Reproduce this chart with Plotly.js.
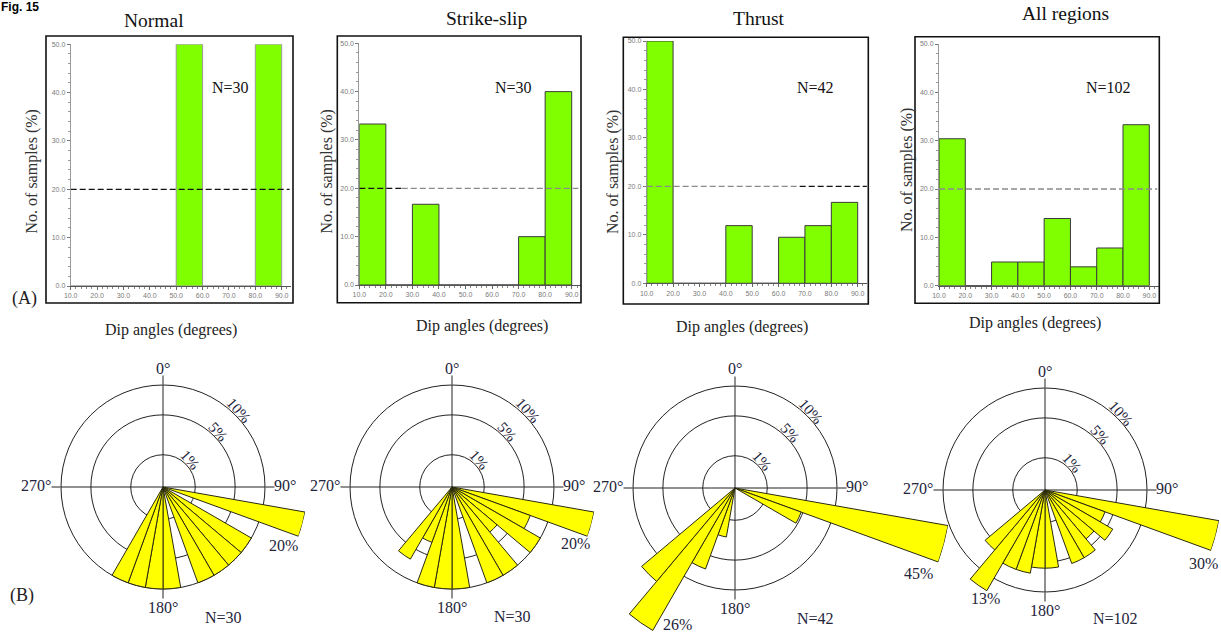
<!DOCTYPE html>
<html>
<head>
<meta charset="utf-8">
<script src="https://cdn.plot.ly/plotly-3.0.1.min.js"></script>
<style>
  html, body { margin: 0; padding: 0; background: #ffffff; overflow: hidden; }
  #frame { width: 1221px; height: 634px; overflow: hidden; position: relative; }
</style>
</head>
<body>
<div id="frame"><div id="chart"></div></div>
<script>
// ---- Dip-angle histograms: share of samples (%) per 10-degree dip bin ----
const dipBinCentres = [15, 25, 35, 45, 55, 65, 75, 85];
const dipTickValues = [10, 20, 30, 40, 50, 60, 70, 80, 90];
const dipNormal     = [0, 0, 0, 0, 50, 0, 0, 50];
const dipStrikeSlip = [33.3, 0, 16.7, 0, 0, 0, 10, 40];
const dipThrust     = [50, 0, 0, 11.9, 0, 9.5, 11.9, 16.7];
const dipAll        = [30.4, 0, 4.9, 4.9, 13.9, 3.9, 7.8, 33.3];
const referenceLevel = 20;

// ---- Rose diagrams: share of samples (%) per 10-degree azimuth bin ----
const roseBinCentres = [105, 115, 125, 135, 145, 155, 165, 175, 185, 195, 205, 215, 225];
const roseBinWidth   = 10;
const roseNormal     = [20, 0, 10, 10, 10, 10, 0, 10, 10, 10, 10, 0, 0];
const roseStrikeSlip = [20, 6.67, 10, 3.33, 10, 10, 0, 10, 10, 10, 3.33, 6.67, 0];
const roseThrust     = [45, 4.76, 0, 0, 0, 0, 0, 0, 0, 2.38, 7.14, 26, 14.29];
const roseAll        = [30, 3.92, 5.88, 3.92, 5.88, 5.88, 0, 5.88, 5.88, 6.86, 6.86, 13, 5.88];
const roseRings      = [1, 5, 10];
const roseCompass    = [0, 90, 180, 270];

const panelTitles  = ['Normal', 'Strike-slip', 'Thrust', 'All regions'];
const sampleCounts = [30, 30, 42, 102];

// ---- page geometry ----
// The figure canvas is larger than the visible frame so that the long petals,
// which run past the outer ring, have room inside their own polar subplot.
const W = 1300, H = 900;
const R_OUTER = 102;                 // pixel radius of the outermost ring
const X_MAX = 93.5;
const serif = '"Liberation Serif", "Times New Roman", serif';
const ink = '#24243a';
const px = x => x / W;
const py = y => 1 - y / H;

const panels = [
  { dip: dipNormal, rose: roseNormal, barLine: '#9a9a9a',
    x10: 70.7, x90: 281.7, y0: 286, y50: 44.3, frame: [46, 36, 293, 303],
    title: [154, 21], nHist: [230, 87], yTitle: [31.5, 172], xTitle: [170.5, 330],
    refSegments: [[10, 93, '#111111']],
    centre: [163, 487], nRose: [60, 130],
    petalLabels: [[0, 120, 58]] },
  { dip: dipStrikeSlip, rose: roseStrikeSlip, barLine: '#3a3a3a',
    x10: 359.3, x90: 571.7, y0: 285, y50: 43.3, frame: [337.3, 36, 581, 302.7],
    title: [486, 19], nHist: [513, 87], yTitle: [326.5, 172], xTitle: [482, 326],
    refSegments: [[10, 26, '#111111'], [26, 92.5, '#8a8a8a']],
    centre: [452, 487], nRose: [60, 129],
    petalLabels: [[0, 123, 56]] },
  { dip: dipThrust, rose: roseThrust, barLine: '#3a3a3a',
    x10: 646.7, x90: 857.7, y0: 283.3, y50: 41, frame: [623.3, 37.3, 868.3, 304],
    title: [759, 18], nHist: [815, 87], yTitle: [613, 172], xTitle: [741.5, 327],
    refSegments: [[10, 68, '#8a8a8a'], [68, 93.5, '#111111']],
    centre: [735, 488], nRose: [80, 130],
    petalLabels: [[0, 183, 85], [11, -58, 136]] },
  { dip: dipAll, rose: roseAll, barLine: '#3a3a3a',
    x10: 939, x90: 1149.3, y0: 285.7, y50: 44, frame: [915, 36.7, 1159.3, 303.3],
    title: [1065, 14], nHist: [1108, 87], yTitle: [907, 170], xTitle: [1035, 323],
    refSegments: [[10, 93, '#8a8a8a']],
    centre: [1045, 490], nRose: [70, 128],
    petalLabels: [[0, 158, 73], [11, -60, 108]] }
];

function note(text, x, y, extra) {
  const base = {
    text: text, x: px(x), y: py(y), xref: 'paper', yref: 'paper',
    showarrow: false, xanchor: 'center', yanchor: 'middle',
    font: { family: serif, size: 16, color: ink }
  };
  return Object.assign(base, extra || {});
}

const layout = {
  width: W, height: H,
  margin: { l: 0, r: 0, t: 0, b: 0, pad: 0 },
  paper_bgcolor: '#ffffff', plot_bgcolor: 'rgba(0,0,0,0)',
  showlegend: false,
  annotations: [], shapes: []
};
const histTraces = [], ringTraces = [], petalTraces = [];

const ringMaxPct = roseRings[roseRings.length - 1];
const ringTicks = roseRings.slice(0, -1).map(Math.sqrt);

panels.forEach((p, i) => {
  const k = i === 0 ? '' : String(i + 1);
  const xa = 'x' + k, ya = 'y' + k;

  // ---- histogram ----
  histTraces.push({
    type: 'bar', x: dipBinCentres, y: p.dip, width: 10,
    xaxis: xa, yaxis: ya,
    marker: { color: '#80ff00', line: { color: p.barLine, width: 1 } },
    hoverinfo: 'skip'
  });

  const unit = (p.x90 - p.x10) / 80;
  const axisFont = { family: 'Arial, "Liberation Sans", sans-serif', size: 7, color: '#7a7a7a' };
  layout['xaxis' + k] = {
    domain: [px(p.x10), px(p.x10 + (X_MAX - 10) * unit)],
    anchor: ya, range: [10, X_MAX], tickvals: dipTickValues, tickformat: '.1f',
    ticks: 'outside', ticklen: 3, tickcolor: '#666', tickwidth: 1,
    minor: { dtick: 2, ticks: 'outside', ticklen: 2, tickcolor: '#888' },
    showline: true, linecolor: '#555', linewidth: 1,
    showgrid: false, zeroline: false, tickfont: axisFont, fixedrange: true
  };
  layout['yaxis' + k] = {
    domain: [py(p.y0), py(p.y50)],
    anchor: xa, range: [0, 50], dtick: 10, tickformat: '.1f',
    ticks: 'outside', ticklen: 3, tickcolor: '#777', tickwidth: 1,
    minor: { dtick: 2, ticks: 'outside', ticklen: 2, tickcolor: '#999' },
    showline: true, linecolor: '#999', linewidth: 1,
    showgrid: false, zeroline: false, tickfont: axisFont, fixedrange: true
  };

  p.refSegments.forEach(seg => {
    layout.shapes.push({
      type: 'line', xref: xa, yref: ya, x0: seg[0], x1: seg[1],
      y0: referenceLevel, y1: referenceLevel,
      line: { color: seg[2], width: 1.3, dash: '6px,3px' }
    });
  });

  layout.shapes.push({
    type: 'rect', xref: 'paper', yref: 'paper',
    x0: px(p.frame[0]), x1: px(p.frame[2]), y0: py(p.frame[3]), y1: py(p.frame[1]),
    line: { color: '#111', width: 1.6 }, fillcolor: 'rgba(0,0,0,0)'
  });

  layout.annotations.push(
    note(panelTitles[i], p.title[0], p.title[1], { font: { family: serif, size: 19.5, color: '#111' } }),
    note('N=' + sampleCounts[i], p.nHist[0], p.nHist[1], { font: { family: serif, size: 16, color: '#111' } }),
    note('No. of samples (%)', p.yTitle[0], p.yTitle[1], { textangle: -90, font: { family: serif, size: 16, color: '#333' } }),
    note('Dip angles (degrees)', p.xTitle[0], p.xTitle[1], { font: { family: serif, size: 16, color: '#222' } })
  );

  // ---- rose diagram ----
  // ring subplot: 1 %, 5 %, 10 % circles and the compass cross (equal-area: radius ~ sqrt(%))
  const cx = p.centre[0], cy = p.centre[1];
  const ringId = i === 0 ? 'polar' : 'polar' + (i + 1);
  const petalId = 'polar' + (i + 5);

  ringTraces.push({
    type: 'scatterpolar', subplot: ringId, r: [], theta: [], mode: 'markers', hoverinfo: 'skip'
  });
  layout[ringId] = {
    domain: { x: [px(cx - R_OUTER), px(cx + R_OUTER)], y: [py(cy + R_OUTER), py(cy - R_OUTER)] },
    bgcolor: 'rgba(0,0,0,0)',
    radialaxis: {
      range: [0, Math.sqrt(ringMaxPct)], tickvals: ringTicks, showticklabels: false, ticks: '',
      showline: false, showgrid: true, gridcolor: '#222', gridwidth: 1
    },
    angularaxis: {
      rotation: 90, direction: 'clockwise', tickvals: roseCompass, showticklabels: false,
      ticks: 'outside', ticklen: 9, tickcolor: '#222', tickwidth: 1,
      showline: true, linecolor: '#222', linewidth: 1,
      showgrid: true, gridcolor: '#222', gridwidth: 1
    }
  };

  // petal subplot: same centre and scale, radial range wide enough for the longest petal
  const maxPct = Math.max(...p.rose);
  const rPetal = R_OUTER * Math.sqrt(maxPct / ringMaxPct);
  petalTraces.push({
    type: 'barpolar', subplot: petalId,
    r: p.rose.map(Math.sqrt), theta: roseBinCentres, width: roseBinWidth,
    marker: { color: '#ffff00', line: { color: '#2a2a10', width: 1 } },
    hoverinfo: 'skip'
  });
  layout[petalId] = {
    domain: { x: [px(cx - rPetal), px(cx + rPetal)], y: [py(cy + rPetal), py(cy - rPetal)] },
    bgcolor: 'rgba(0,0,0,0)',
    radialaxis: { range: [0, Math.sqrt(maxPct)], visible: false, showgrid: false },
    angularaxis: { rotation: 90, direction: 'clockwise', visible: false, showgrid: false, showline: false }
  };

  // compass labels just outside the cross
  roseCompass.forEach(d => {
    const opts = { font: { family: serif, size: 16, color: ink } };
    let x = cx, y = cy;
    if (d === 0)   { y = cy - 119; }
    if (d === 180) { y = cy + 120; }
    if (d === 90)  { x = cx + 109; y = cy - 2; opts.xanchor = 'left'; }
    if (d === 270) { x = cx - 110; y = cy - 2; opts.xanchor = 'right'; }
    layout.annotations.push(note(d + '°', x, y, opts));
  });

  // ring labels along the 45-degree direction
  roseRings.forEach(v => {
    const rr = R_OUTER * Math.sqrt(v / ringMaxPct) + 6;
    const a = Math.PI / 4;
    layout.annotations.push(note(v + '%', cx + rr * Math.sin(a), cy - rr * Math.cos(a),
      { textangle: 48, font: { family: serif, size: 15, color: ink } }));
  });

  // labels on the longest petals
  p.petalLabels.forEach(lab => {
    layout.annotations.push(note(p.rose[lab[0]] + '%', cx + lab[1], cy + lab[2]));
  });
  layout.annotations.push(note('N=' + sampleCounts[i], cx + p.nRose[0], cy + p.nRose[1]));
});

layout.annotations.push(
  note('(A)', 24, 298, { font: { family: serif, size: 18, color: '#222' } }),
  note('(B)', 22, 595, { font: { family: serif, size: 18, color: '#222' } }),
  note('<b>Fig. 15</b>', -1, 7, { xanchor: 'left', font: { family: 'Arial, "Liberation Sans", sans-serif', size: 12, color: '#000' } })
);

Plotly.newPlot('chart', histTraces.concat(ringTraces, petalTraces), layout,
  { displayModeBar: false, staticPlot: true });
</script>
</body>
</html>
